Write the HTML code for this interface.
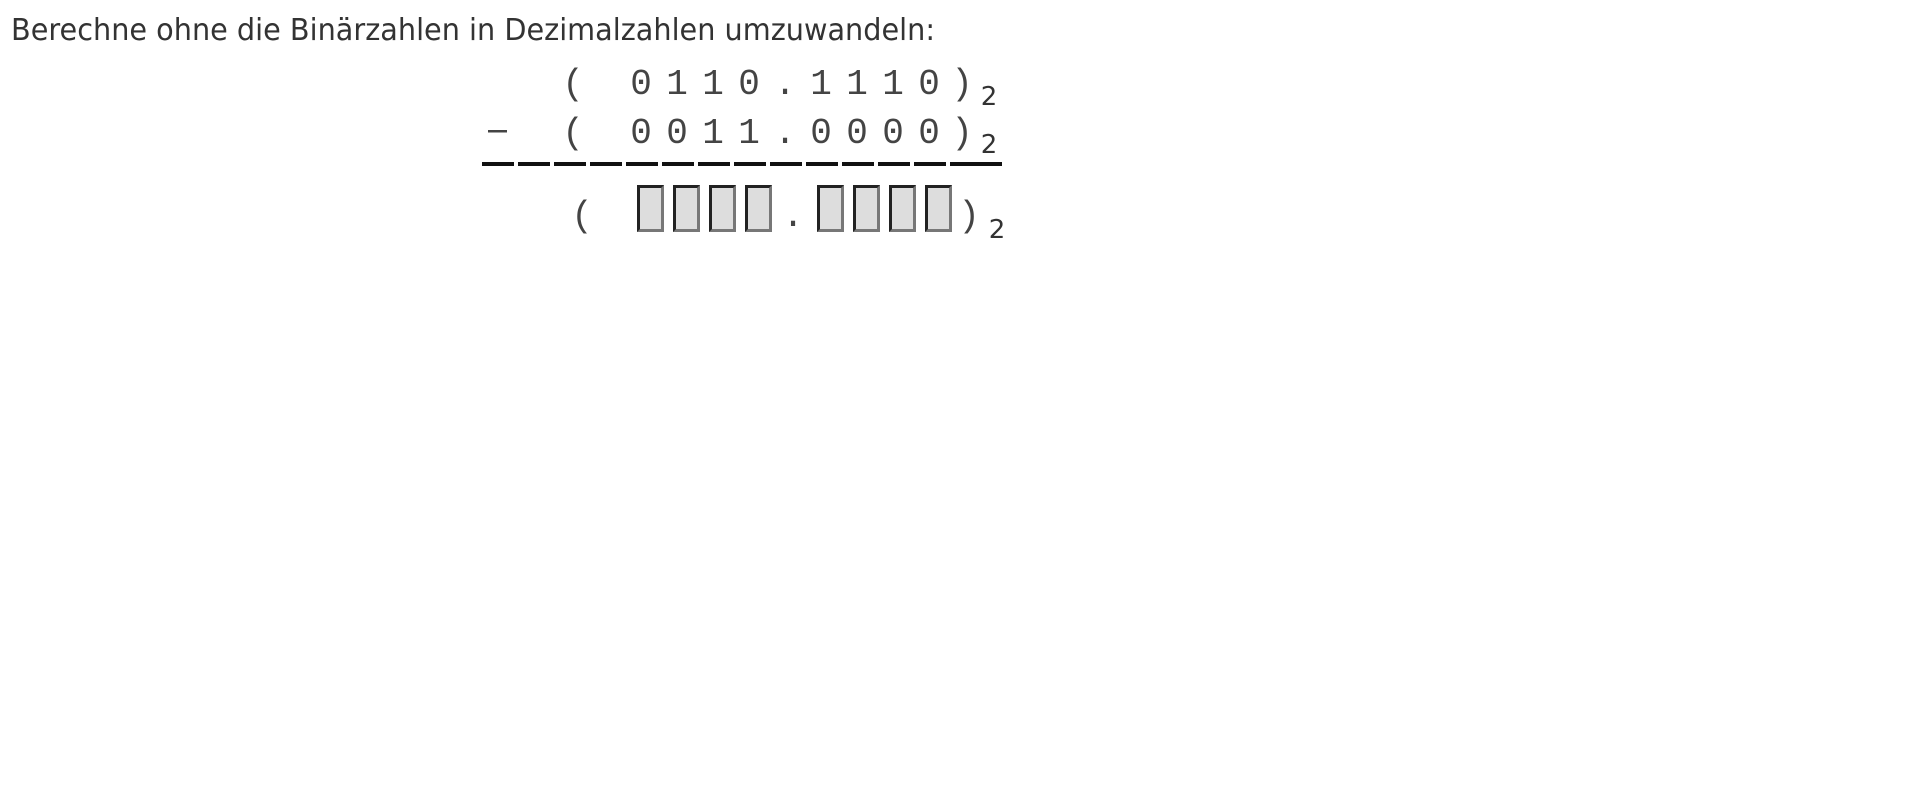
<!DOCTYPE html>
<html><head><meta charset="utf-8"><style>
html,body{margin:0;padding:0;background:#fff;width:1920px;height:810px;overflow:hidden}
</style></head><body>
<svg width="1920" height="810" xmlns="http://www.w3.org/2000/svg">
<text x="11" y="40" font-family="DejaVu Sans, sans-serif" font-size="30" fill="#333" textLength="924" lengthAdjust="spacingAndGlyphs">Berechne ohne die Binärzahlen in Dezimalzahlen umzuwandeln:</text>
<g font-family="Liberation Mono, monospace" font-size="36" fill="#444" text-anchor="middle">
<text x="573" y="94">(</text>
<text x="641" y="94">0</text><text x="677" y="94">1</text><text x="713" y="94">1</text><text x="749" y="94">0</text>
<text x="785" y="94">.</text>
<text x="821" y="94">1</text><text x="857" y="94">1</text><text x="893" y="94">1</text><text x="929" y="94">0</text>
<text x="962" y="94">)</text>
<text x="573" y="143">(</text>
<text x="641" y="143">0</text><text x="677" y="143">0</text><text x="713" y="143">1</text><text x="749" y="143">1</text>
<text x="785" y="143">.</text>
<text x="821" y="143">0</text><text x="857" y="143">0</text><text x="893" y="143">0</text><text x="929" y="143">0</text>
<text x="962" y="143">)</text>
<text x="582" y="226">(</text>
<text x="793" y="226">.</text>
<text x="969" y="226">)</text>
</g>
<rect x="488" y="130" width="19" height="2.5" fill="#444"/>
<g font-family="DejaVu Sans, sans-serif" font-size="26" fill="#333" text-anchor="middle">
<text x="989" y="105">2</text>
<text x="989" y="153">2</text>
<text x="997" y="238">2</text>
</g>
<g fill="#111">
<rect x="482" y="162" width="32" height="4"/><rect x="518" y="162" width="32" height="4"/>
<rect x="554" y="162" width="32" height="4"/><rect x="590" y="162" width="32" height="4"/>
<rect x="626" y="162" width="32" height="4"/><rect x="662" y="162" width="32" height="4"/>
<rect x="698" y="162" width="32" height="4"/><rect x="734" y="162" width="32" height="4"/>
<rect x="770" y="162" width="32" height="4"/><rect x="806" y="162" width="32" height="4"/>
<rect x="842" y="162" width="32" height="4"/><rect x="878" y="162" width="32" height="4"/>
<rect x="914" y="162" width="32" height="4"/><rect x="950" y="162" width="52" height="4"/>
</g>
<defs>
<g id="b">
<rect x="0" y="0" width="27" height="47" fill="#777"/>
<polygon points="0,0 27,0 24,3 3,3 3,44 0,47" fill="#222"/>
<rect x="3" y="3" width="21" height="41" fill="#ddd"/>
</g>
</defs>
<use href="#b" x="637" y="185"/><use href="#b" x="673" y="185"/>
<use href="#b" x="709" y="185"/><use href="#b" x="745" y="185"/>
<use href="#b" x="817" y="185"/><use href="#b" x="853" y="185"/>
<use href="#b" x="889" y="185"/><use href="#b" x="925" y="185"/>
</svg>
</body></html>
